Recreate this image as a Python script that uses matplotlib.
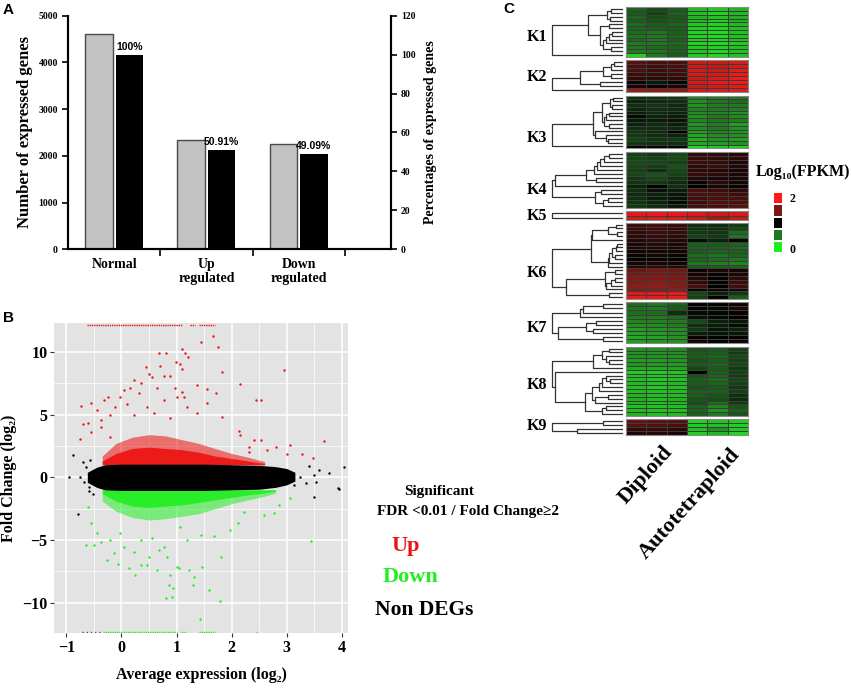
import numpy as np
import matplotlib
matplotlib.use("Agg")
import matplotlib.pyplot as plt
from matplotlib.colors import LinearSegmentedColormap

W, H = 851, 688
SERIF = ["Liberation Serif", "DejaVu Serif"]
SANS = ["Liberation Sans", "DejaVu Sans"]

plt.rcParams["font.family"] = SERIF
plt.rcParams["font.weight"] = "bold"
plt.rcParams["axes.labelweight"] = "bold"

# ---------------- panel A data
groups = ["Normal", "Up\nregulated", "Down\nregulated"]
gene_counts = [4600, 2342, 2258]
gene_pct = [100, 50.91, 49.09]
pct_labels = ["100%", "50.91%", "49.09%"]

# ---------------- panel B data
# dense core envelopes
band_x = [-0.62, -0.45, -0.3, 0.0, 0.5, 1.0, 1.5, 2.0, 2.5, 2.8, 3.0, 3.15]
band_hi = [0.4, 0.8, 1.0, 1.05, 1.05, 1.05, 1.05, 1.0, 0.95, 0.85, 0.7, 0.4]
band_lo = [-0.4, -0.8, -1.0, -1.05, -1.05, -1.05, -1.05, -1.0, -0.95, -0.8, -0.6, -0.3]
up_x = [-0.35, -0.1, 0.2, 0.5, 0.8, 1.1, 1.4, 1.7, 2.0, 2.3, 2.6]
up_mid = [1.3, 1.9, 2.3, 2.4, 2.3, 2.2, 2.0, 1.7, 1.5, 1.3, 1.1]
up_hi = [1.7, 2.7, 3.2, 3.4, 3.3, 3.0, 2.7, 2.3, 1.9, 1.6, 1.25]
dn_x = [-0.35, -0.1, 0.2, 0.5, 0.8, 1.1, 1.4, 1.7, 2.0, 2.3, 2.6, 2.8]
dn_mid = [-1.3, -1.9, -2.3, -2.4, -2.3, -2.2, -2.0, -1.8, -1.6, -1.4, -1.25, -1.1]
dn_lo = [-1.9, -2.7, -3.2, -3.4, -3.3, -3.1, -2.9, -2.5, -2.1, -1.8, -1.5, -1.25]

# scattered points
up_px = [1.66, 1.45, 1.75, 1.10, 1.15, 0.68, 0.81, 0.99, 1.07, 1.21, 1.10, 1.83, 2.95,
         0.44, 0.70, 0.50, 0.56, 0.77, 0.89, 0.22, 2.16, 0.04, 0.16, 0.35, 0.65, 0.98,
         1.10, 1.38, 1.56, 1.71, -0.25, -0.02, 0.32, 1.01, 1.13, 2.44, 2.53, -0.73,
         -0.55, -0.32, -0.11, 0.10, 0.47, 0.77, 1.19, 1.56, 1.83, -0.70, -0.61, -0.44,
         -0.38, -0.20, 0.22, 0.59, 0.89, 1.38, -0.76, -0.56, -0.38, -0.20, 2.13, 2.16,
         2.41, 2.53, 2.32, 2.80, 3.07, 3.68, 3.28, 3.47, 3.01, 2.65, 2.32]
up_py = [11.25, 10.8, 10.4, 10.2, 9.87, 9.92, 9.92, 9.2, 9.0, 9.55, 8.6, 8.4, 8.54,
         8.8, 8.9, 8.2, 8.0, 8.1, 8.1, 7.75, 7.4, 6.95, 7.1, 7.5, 7.1, 7.1,
         6.8, 7.35, 7.0, 6.7, 6.37, 6.42, 6.74, 6.42, 6.37, 6.2, 6.2, 5.68,
         5.89, 6.15, 5.62, 5.84, 5.62, 6.15, 5.62, 5.89, 4.83, 4.24, 4.30, 5.36,
         4.56, 4.96, 4.96, 5.09, 4.7, 5.09, 3.02, 3.63, 4.03, 3.24, 3.71, 3.37,
         2.97, 2.97, 2.44, 2.44, 2.57, 2.92, 1.86, 1.51, 1.86, 2.18, 2.04]
dn_px = [-0.65, -0.56, -0.61, -0.44, -0.50, -0.38, -0.26, -0.14, -0.07, 0.04, 0.13,
         0.25, 0.35, 0.47, 0.50, 0.65, 0.77, 0.83, 0.89, 1.01, 1.04, 1.22, 0.86, 0.94,
         0.80, 0.92, 1.32, 1.30, 1.42, 1.59, 1.79, 1.80, 1.47, 1.98, 2.12, 2.22, 2.59,
         2.77, 2.86, 3.07, 3.44, 1.19, 1.07, 1.44, 1.68, 0.56, 0.35, -0.02, -0.20,
         0.68, 0.22]
dn_py = [-5.4, -3.67, -2.34, -4.47, -5.37, -5.13, -6.6, -6.06, -6.9, -5.53, -7.26,
         -7.79, -6.99, -6.99, -6.33, -7.39, -5.53, -6.33, -7.79, -7.13, -7.26, -7.39, -8.56, -8.86,
         -9.65, -9.57, -7.93, -8.59, -11.3, -8.99, -9.84, -6.33, -7.13, -4.2, -3.67, -2.74, -3.0,
         -2.87, -2.2, -1.68, -5.05, -5.0, -3.94, -4.6, -4.7, -4.87, -5.0, -4.47, -5.0,
         -5.8, -5.93]
non_px = [-0.88, -0.96, -0.75, 4.04, 3.93, 3.77, 3.53, 3.50, 3.59, 3.35, 3.25, 3.13,
          -0.68, -0.59, -0.58, -0.64, 3.50, 3.95, -0.79, -0.59, -0.70, -0.52, 3.40]
non_py = [1.78, 0.0, 0.05, 0.85, -0.88, 0.32, -0.34, 0.19, 0.58, -0.42, 0.05, -0.61,
          -0.34, -0.74, 1.38, 0.85, -1.59, -0.93, -2.93, -1.06, 1.2, -1.3, 0.9]
# genes off the scale (drawn on the panel edges)
top_segments = [(-0.62, 1.10), (1.25, 1.33), (1.40, 1.70)]
bottom_green = [(-0.33, 1.00), (1.08, 1.17), (1.40, 1.70), (2.44, 2.48)]
bottom_black = [(-0.71, -0.38)]

# ---------------- panel C data (log10 FPKM, 3 diploid + 3 autotetraploid)
clusters = ["K1", "K2", "K3", "K4", "K5", "K6", "K7", "K8", "K9"]
K1 = [[0.60, 0.70, 0.62, 0.22, 0.15, 0.25], [0.62, 0.72, 0.60, 0.20, 0.12, 0.22],
      [0.58, 0.68, 0.64, 0.25, 0.18, 0.28], [0.60, 0.66, 0.62, 0.22, 0.15, 0.25],
      [0.55, 0.62, 0.58, 0.18, 0.12, 0.22], [0.58, 0.60, 0.62, 0.15, 0.10, 0.20],
      [0.55, 0.52, 0.60, 0.12, 0.08, 0.18], [0.52, 0.50, 0.58, 0.12, 0.10, 0.20],
      [0.55, 0.48, 0.60, 0.15, 0.10, 0.18], [0.50, 0.50, 0.56, 0.12, 0.08, 0.15],
      [0.52, 0.55, 0.58, 0.15, 0.12, 0.18], [0.50, 0.52, 0.60, 0.18, 0.12, 0.20],
      [0.12, 0.50, 0.62, 0.15, 0.10, 0.18]]
K2 = [[1.35, 1.30, 1.30, 1.80, 1.80, 1.85], [1.30, 1.28, 1.30, 1.82, 1.78, 1.85],
      [1.32, 1.25, 1.28, 1.85, 1.82, 1.90], [1.25, 1.22, 1.25, 1.85, 1.85, 1.92],
      [1.20, 1.18, 1.20, 1.82, 1.88, 1.95], [1.05, 0.90, 1.02, 1.85, 1.90, 1.95],
      [1.10, 1.05, 1.12, 1.80, 1.85, 1.90], [1.62, 1.58, 1.60, 1.85, 1.88, 1.90]]
K3 = [[0.82, 0.80, 0.78, 0.45, 0.50, 0.52], [0.85, 0.82, 0.80, 0.42, 0.52, 0.55],
      [0.80, 0.78, 0.82, 0.40, 0.48, 0.50], [0.84, 0.80, 0.82, 0.45, 0.50, 0.48],
      [0.88, 0.82, 0.85, 0.42, 0.45, 0.40], [0.95, 0.85, 0.88, 0.40, 0.50, 0.42],
      [0.90, 0.88, 0.92, 0.45, 0.52, 0.48], [0.85, 0.82, 0.86, 0.38, 0.48, 0.35],
      [0.80, 0.80, 0.82, 0.42, 0.50, 0.40], [0.78, 0.82, 1.00, 0.35, 0.45, 0.38],
      [0.75, 0.80, 0.85, 0.30, 0.42, 0.40], [0.72, 0.78, 0.75, 0.28, 0.40, 0.35],
      [0.78, 0.80, 0.80, 0.30, 0.35, 0.40], [1.00, 1.00, 1.00, 0.10, 0.15, 0.12]]
K4 = [[0.72, 0.75, 0.70, 1.20, 1.18, 1.15], [0.70, 0.72, 0.68, 1.22, 1.20, 1.18],
      [0.68, 0.70, 0.72, 1.25, 1.22, 1.12], [0.70, 0.74, 0.66, 1.20, 1.25, 1.15],
      [0.72, 0.80, 0.70, 1.18, 1.15, 1.10], [0.70, 0.65, 0.72, 1.22, 1.18, 1.12],
      [0.75, 0.70, 0.78, 1.15, 1.12, 1.10], [0.78, 0.75, 0.82, 1.05, 1.18, 1.08],
      [0.85, 1.00, 0.80, 1.00, 1.12, 1.05], [0.80, 0.92, 0.88, 1.30, 1.25, 1.20],
      [0.82, 0.85, 0.90, 1.32, 1.30, 1.25], [0.80, 0.88, 0.92, 1.28, 1.32, 1.30],
      [0.78, 0.85, 0.95, 1.25, 1.35, 1.32], [0.75, 0.82, 0.90, 1.28, 1.30, 1.35]]
K5 = [[1.88, 1.90, 1.88, 1.85, 1.80, 1.85], [1.85, 1.88, 1.90, 1.82, 1.65, 1.80]]
K6 = [[1.25, 1.28, 1.22, 0.80, 0.82, 0.75], [1.22, 1.25, 1.20, 0.78, 0.80, 0.70],
      [1.20, 1.25, 1.22, 0.75, 0.78, 0.55], [1.18, 1.22, 1.20, 0.72, 0.75, 0.52],
      [1.15, 1.18, 1.15, 0.95, 0.85, 1.05], [1.12, 1.15, 1.12, 0.60, 0.62, 0.58],
      [1.10, 1.12, 1.10, 0.58, 0.60, 0.55], [1.08, 1.10, 1.08, 0.62, 0.58, 0.60],
      [1.05, 1.08, 1.05, 0.55, 0.52, 0.58], [1.02, 1.05, 1.00, 0.58, 0.55, 0.52],
      [1.10, 1.12, 1.08, 0.50, 0.48, 0.45], [1.15, 1.18, 1.15, 0.62, 0.60, 0.58],
      [1.45, 1.50, 1.48, 1.05, 1.10, 1.08], [1.50, 1.52, 1.50, 1.10, 1.05, 1.12],
      [1.55, 1.55, 1.52, 1.15, 1.02, 1.18], [1.55, 1.58, 1.55, 1.20, 0.98, 1.25],
      [1.60, 1.62, 1.58, 1.30, 1.00, 1.28], [1.58, 1.60, 1.62, 1.05, 1.08, 1.10],
      [1.88, 1.90, 1.92, 0.70, 0.85, 0.75], [1.92, 1.92, 1.95, 0.72, 1.00, 0.62]]
K7 = [[0.55, 0.52, 0.60, 1.00, 0.98, 1.05], [0.52, 0.50, 0.62, 0.98, 0.95, 1.12],
      [0.55, 0.55, 0.80, 0.95, 0.97, 1.05], [0.50, 0.48, 0.55, 0.92, 0.95, 1.00],
      [0.45, 0.45, 0.50, 0.70, 0.85, 0.90], [0.40, 0.42, 0.48, 0.80, 0.88, 0.95],
      [0.35, 0.38, 0.42, 0.75, 0.90, 0.85], [0.32, 0.35, 0.40, 0.88, 0.92, 0.90],
      [0.30, 0.32, 0.38, 1.05, 0.98, 1.02], [0.35, 0.38, 0.40, 1.08, 1.00, 1.05]]
K8 = [[0.40, 0.40, 0.42, 0.65, 0.62, 0.72], [0.38, 0.38, 0.40, 0.62, 0.60, 0.75],
      [0.40, 0.38, 0.38, 0.60, 0.58, 0.70], [0.35, 0.35, 0.38, 0.65, 0.60, 0.72],
      [0.38, 0.36, 0.35, 0.62, 0.58, 0.70], [0.30, 0.30, 0.32, 0.70, 0.62, 0.75],
      [0.15, 0.15, 0.18, 0.98, 0.60, 0.72], [0.18, 0.15, 0.18, 0.65, 0.58, 0.75],
      [0.20, 0.16, 0.20, 0.60, 0.55, 0.70], [0.22, 0.18, 0.22, 0.62, 0.58, 0.72],
      [0.20, 0.15, 0.18, 0.65, 0.62, 0.75], [0.22, 0.20, 0.22, 0.60, 0.60, 0.72],
      [0.25, 0.20, 0.22, 0.62, 0.65, 0.80], [0.28, 0.22, 0.25, 0.65, 0.68, 0.82],
      [0.25, 0.20, 0.22, 0.68, 0.55, 0.75], [0.20, 0.18, 0.20, 0.60, 0.45, 0.65],
      [0.22, 0.18, 0.20, 0.58, 0.40, 0.60], [0.25, 0.20, 0.22, 0.60, 0.50, 0.65]]
K9 = [[1.40, 1.38, 1.35, 0.12, 0.18, 0.15], [1.35, 1.35, 1.30, 0.15, 0.20, 0.12],
      [1.20, 1.22, 1.18, 0.18, 0.40, 0.15], [1.12, 1.15, 1.10, 0.12, 0.22, 0.10]]
cluster_data = [K1, K2, K3, K4, K5, K6, K7, K8, K9]
sample_groups = ["Diploid", "Autotetraploid"]
cbar_levels = [2, 1.5, 1, 0.5, 0]

# pixel layout of the heatmap blocks
blk_top = [7.3, 60, 95.7, 151.7, 211, 222.7, 302.3, 346.7, 419]
blk_bot = [56.7, 91.7, 148.3, 207.7, 220, 299, 343.3, 416, 435]
lbl_y = [36.7, 77.3, 138.3, 190, 215.7, 272.7, 328.3, 385, 426]


def box(l, t, r, b):
    return [l / W, 1 - b / H, (r - l) / W, (b - t) / H]


fig = plt.figure(figsize=(W / 100, H / 100), dpi=100)


def ftext(x, y, s, **kw):
    fig.text(x / W, 1 - y / H, s, **kw)


# ================= A
axA = fig.add_axes(box(68.3, 15.7, 390.7, 249.3))
xpos = np.arange(len(groups))
axA.bar(xpos - 0.165, gene_counts, 0.3, color="#c2c2c2", edgecolor="#4a4a4a", lw=1)
axA.set_xlim(-0.5, 3.0)
axA.set_ylim(0, 5000)
axA.set_yticks(range(0, 5001, 1000))
axA.set_xticks(xpos)
axA.set_xticklabels(groups, fontsize=10, linespacing=1.1)
axA.set_xticks([0.5, 1.5, 2.5], minor=True)
axA.tick_params(axis="x", which="major", length=0, pad=6)
axA.tick_params(axis="x", which="minor", length=5, width=1.2, direction="out")
axA.tick_params(axis="y", labelsize=7, length=4, width=1.2)
axA.set_ylabel("Number of expressed genes", fontsize=12, labelpad=4)
axA2 = axA.twinx()
axA2.bar(xpos + 0.165, gene_pct, 0.3, color="black")
axA2.set_ylim(0, 120)
axA2.set_yticks(range(0, 121, 20))
axA2.tick_params(axis="y", labelsize=7, length=4, width=1.2)
axA2.set_ylabel("Percentages of expressed genes", fontsize=10, labelpad=6)
for xi, p, s in zip(xpos, gene_pct, pct_labels):
    axA2.text(xi + 0.165, p + 1.5, s, ha="center", va="bottom", fontsize=7.5,
              family=SANS, fontweight="bold")
for ax in (axA, axA2):
    ax.spines["top"].set_visible(False)
    for sp in ("left", "right", "bottom"):
        ax.spines[sp].set_linewidth(1.5)

# ================= B
axB = fig.add_axes(box(54.3, 322.7, 348.3, 633.3))
axB.set_facecolor("#e3e3e3")
red, green = "#ee1111", "#22ee22"
axB.fill_between(up_x, 1.0, up_hi, color=red, alpha=0.55, lw=0)
axB.fill_between(up_x, 1.0, up_mid, color=red, alpha=0.9, lw=0)
axB.fill_between(dn_x, dn_lo, -1.0, color=green, alpha=0.55, lw=0)
axB.fill_between(dn_x, dn_mid, -1.0, color=green, alpha=0.9, lw=0)
axB.fill_between(band_x, band_lo, band_hi, color="black", lw=0)
axB.scatter(up_px, up_py, s=3, color=red, lw=0)
axB.scatter(dn_px, dn_py, s=3, color=green, lw=0)
axB.scatter(non_px, non_py, s=3, color="black", lw=0)
for a, b in top_segments:
    axB.plot([a, b], [12.15, 12.15], color=red, lw=1, ls=(0, (1, 0.6)))
for a, b in bottom_green:
    axB.plot([a, b], [-12.3, -12.3], color=green, lw=1, ls=(0, (1, 0.6)))
for a, b in bottom_black:
    axB.plot([a, b], [-12.3, -12.3], color="#555555", lw=1, ls=(0, (1, 2)))
axB.set_xlim(-1.22, 4.12)
axB.set_ylim(-12.43, 12.32)
axB.set_xticks(range(-1, 5))
axB.set_yticks([-10, -5, 0, 5, 10])
axB.set_xticks(np.arange(-0.5, 4.0, 1.0), minor=True)
axB.set_yticks([-7.5, -2.5, 2.5, 7.5], minor=True)
axB.grid(which="major", color="white", lw=1.1)
axB.grid(which="minor", color="white", lw=0.5)
axB.set_axisbelow(True)
axB.tick_params(which="major", length=3, color="#333333", labelsize=11.5, pad=2)
axB.tick_params(which="minor", length=0)
for sp in axB.spines.values():
    sp.set_visible(False)
axB.set_xlabel("Average expression (log\u2082)", fontsize=11.5, labelpad=8)
axB.set_ylabel("Fold Change (log\u2082)", fontsize=11.5, labelpad=4)

ftext(439, 492, "Significant", ha="center", va="center", fontsize=11)
ftext(377, 512, "FDR <0.01 / Fold Change\u22652", ha="left", va="center", fontsize=11)
ftext(391, 546, "Up", ha="left", va="center", fontsize=16, color=red)
ftext(383, 577, "Down", ha="left", va="center", fontsize=16, color=green)
ftext(375, 610, "Non DEGs", ha="left", va="center", fontsize=15.5, color="black")

# ================= C
cmap = LinearSegmentedColormap.from_list(
    "gkr", [(0, "#1ef01e"), (0.25, "#1f7a1f"), (0.5, "#000000"),
            (0.75, "#7a1812"), (1, "#ff1a1a")])


def draw_dendro(ax, mat):
    mat = np.asarray(mat)
    members = [[i] for i in range(len(mat))]
    pos = [i + 0.5 for i in range(len(mat))]
    hts = [0.0] * len(mat)
    links = []
    while len(members) > 1:
        best = None
        for k in range(len(members) - 1):
            a, b = mat[members[k]], mat[members[k + 1]]
            d = np.mean(np.linalg.norm(a[:, None, :] - b[None, :, :], axis=2))
            if best is None or d < best[0]:
                best = (d, k)
        d, k = best
        h = max(d, hts[k], hts[k + 1]) + 0.02
        links.append((pos[k], hts[k], pos[k + 1], hts[k + 1], h))
        members[k] = members[k] + members[k + 1]
        pos[k] = (pos[k] + pos[k + 1]) / 2
        hts[k] = h
        del members[k + 1], pos[k + 1], hts[k + 1]
    for yl, hl, yr, hr, h in links:
        ax.plot([hl, h, h, hr], [yl, yl, yr, yr], color="#333333", lw=0.9,
                clip_on=False)
    ax.set_xlim(hts[0], 0)
    ax.set_ylim(len(mat), 0)
    ax.axis("off")


for name, mat, t, b, ly in zip(clusters, cluster_data, blk_top, blk_bot, lbl_y):
    axh = fig.add_axes(box(626, t, 748, b))
    axh.pcolormesh(np.array(mat), cmap=cmap, vmin=0, vmax=2,
                   edgecolors="#3c3c3c", linewidth=0.5)
    axh.set_ylim(len(mat), 0)
    axh.set_xticks([])
    axh.set_yticks([])
    for sp in axh.spines.values():
        sp.set_color("#8a8a8a")
        sp.set_linewidth(0.8)
    axd = fig.add_axes(box(552, t, 622, b))
    draw_dendro(axd, mat)
    ftext(547, ly, name, ha="right", va="center", fontsize=11.5)

ftext(669, 449, sample_groups[0], ha="right", va="center", fontsize=16,
      rotation=48, rotation_mode="anchor")
ftext(737, 451, sample_groups[1], ha="right", va="center", fontsize=16,
      rotation=48, rotation_mode="anchor")

axc = fig.add_axes(box(773.3, 192.3, 782.7, 253.3))
axc.pcolormesh(np.array(cbar_levels, dtype=float)[:, None], cmap=cmap, vmin=0, vmax=2,
               edgecolors="white", linewidth=1.2)
axc.set_ylim(len(cbar_levels), 0)
axc.axis("off")
ftext(790, 199, "2", ha="left", va="center", fontsize=8.5)
ftext(790, 250, "0", ha="left", va="center", fontsize=8.5)
ftext(802.5, 172, "Log\u2081\u2080(FPKM)", ha="center", va="center", fontsize=11.5)

# panel letters
ftext(3, 10, "A", family=SANS, fontsize=11, fontweight="bold", va="center")
ftext(3, 318, "B", family=SANS, fontsize=11, fontweight="bold", va="center")
ftext(503, 9, "C", family=SANS, fontsize=11, fontweight="bold", va="center")

fig.savefig("out.png", dpi=100)
